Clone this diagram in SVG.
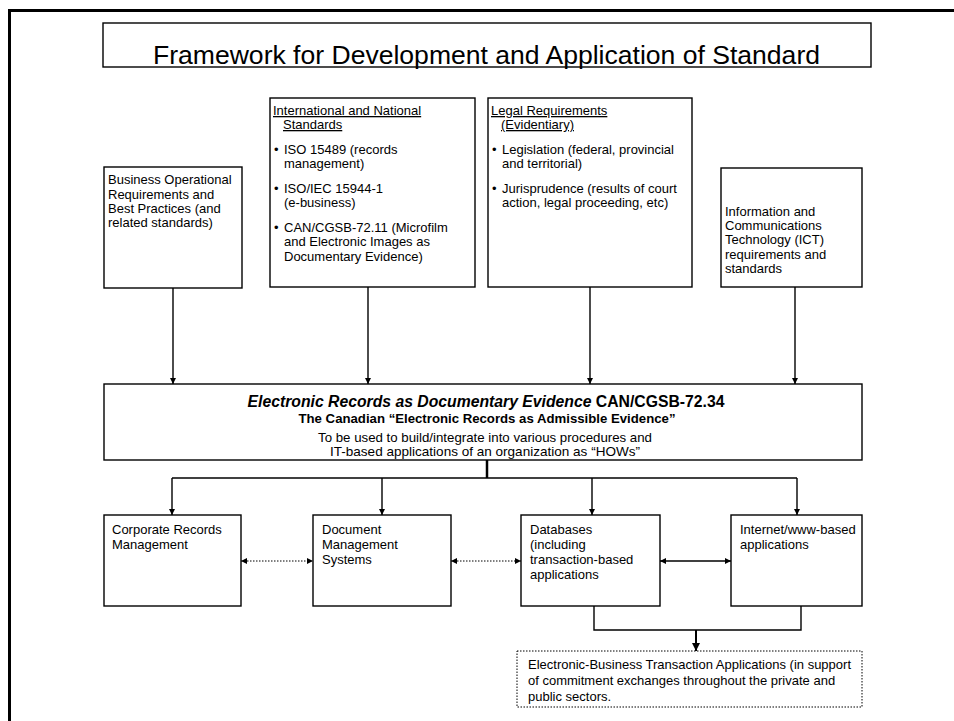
<svg xmlns="http://www.w3.org/2000/svg" width="954" height="721" viewBox="0 0 954 721">
  <defs>
    <marker id="arr" viewBox="0 0 10 10" refX="10" refY="5" markerWidth="6" markerHeight="7" markerUnits="userSpaceOnUse" orient="auto-start-reverse">
      <path d="M0,0 L10,5 L0,10 z" fill="#000"/>
    </marker>
    <marker id="arrL" viewBox="0 0 10 10" refX="10" refY="5" markerWidth="8" markerHeight="8" markerUnits="userSpaceOnUse" orient="auto-start-reverse">
      <path d="M0,0 L10,5 L0,10 z" fill="#000"/>
    </marker>
  </defs>
  <style>
    .box { fill: #fff; stroke: #000; stroke-width: 1.4; }
    .dot { fill: #fff; stroke: #000; stroke-width: 1; stroke-dasharray: 1.5 1.5; }
    .t { font-family: "Liberation Sans", Arial, sans-serif; font-size: 13px; fill: #000; }
    .u { text-decoration: underline; }
    .c { text-anchor: middle; }
    .ln { fill: none; stroke: #000; stroke-width: 1.4; }
    .dl { fill: none; stroke: #000; stroke-width: 1; stroke-dasharray: 1.5 1.5; }
  </style>

  <rect width="954" height="721" fill="#fff"/>
  <!-- outer frame -->
  <path d="M9.5,721 V10.5 H954" fill="none" stroke="#000" stroke-width="3"/>

  <g id="title">
    <rect class="box" x="103" y="23" width="768" height="44"/>
    <text class="t c" x="486.5" y="64" style="font-size:26px" textLength="667" lengthAdjust="spacingAndGlyphs">Framework for Development and Application of Standard</text>
  </g>

  <g id="business">
    <rect class="box" x="104" y="167" width="138" height="121"/>
    <text class="t" x="108" y="184">Business Operational</text>
    <text class="t" x="108" y="199">Requirements and</text>
    <text class="t" x="108" y="213">Best Practices (and</text>
    <text class="t" x="108" y="227">related standards)</text>
  </g>

  <g id="standards">
    <rect class="box" x="270" y="98" width="205" height="189"/>
    <text class="t u" x="273" y="115">International and National</text>
    <text class="t u" x="283" y="129">Standards</text>
    <text class="t" x="274" y="154">•</text>
    <text class="t" x="284" y="154">ISO 15489 (records</text>
    <text class="t" x="284" y="168">management)</text>
    <text class="t" x="274" y="193">•</text>
    <text class="t" x="284" y="193">ISO/IEC 15944-1</text>
    <text class="t" x="284" y="207">(e-business)</text>
    <text class="t" x="274" y="232">•</text>
    <text class="t" x="284" y="232">CAN/CGSB-72.11 (Microfilm</text>
    <text class="t" x="284" y="246">and Electronic Images as</text>
    <text class="t" x="284" y="261">Documentary Evidence)</text>
  </g>

  <g id="legal">
    <rect class="box" x="488" y="98" width="204" height="189"/>
    <text class="t u" x="491" y="115">Legal Requirements</text>
    <text class="t u" x="501" y="129">(Evidentiary)</text>
    <text class="t" x="492" y="154">•</text>
    <text class="t" x="502" y="154">Legislation (federal, provincial</text>
    <text class="t" x="502" y="168">and territorial)</text>
    <text class="t" x="492" y="193">•</text>
    <text class="t" x="502" y="193">Jurisprudence (results of court</text>
    <text class="t" x="502" y="207">action, legal proceeding, etc)</text>
  </g>

  <g id="ict">
    <rect class="box" x="721" y="168" width="141" height="119"/>
    <text class="t" x="725" y="216">Information and</text>
    <text class="t" x="725" y="230">Communications</text>
    <text class="t" x="725" y="244">Technology (ICT)</text>
    <text class="t" x="725" y="259">requirements and</text>
    <text class="t" x="725" y="273">standards</text>
  </g>

  <g id="standard-core">
    <rect class="box" x="104" y="384" width="758" height="76"/>
    <text class="t c" x="486" y="407" style="font-size:16px;font-weight:bold" textLength="477" lengthAdjust="spacingAndGlyphs"><tspan font-style="italic">Electronic Records as Documentary Evidence</tspan> CAN/CGSB-72.34</text>
    <text class="t c" x="487" y="423" style="font-size:12px;font-weight:bold" textLength="377" lengthAdjust="spacingAndGlyphs">The Canadian “Electronic Records as Admissible Evidence”</text>
    <text class="t c" x="485" y="442" style="font-size:13px" textLength="334" lengthAdjust="spacingAndGlyphs">To be used to build/integrate into various procedures and</text>
    <text class="t c" x="485" y="456" style="font-size:13px" textLength="310" lengthAdjust="spacingAndGlyphs">IT-based applications of an organization as “HOWs”</text>
  </g>

  <g id="corporate">
    <rect class="box" x="104" y="515" width="137" height="91"/>
    <text class="t" x="112" y="534">Corporate Records</text>
    <text class="t" x="112" y="549">Management</text>
  </g>

  <g id="docmgmt">
    <rect class="box" x="313" y="515" width="138" height="91"/>
    <text class="t" x="322" y="534">Document</text>
    <text class="t" x="322" y="549">Management</text>
    <text class="t" x="322" y="564">Systems</text>
  </g>

  <g id="databases">
    <rect class="box" x="521" y="515" width="139" height="91"/>
    <text class="t" x="530" y="534">Databases</text>
    <text class="t" x="530" y="549">(including</text>
    <text class="t" x="530" y="564">transaction-based</text>
    <text class="t" x="530" y="579">applications</text>
  </g>

  <g id="internet">
    <rect class="box" x="731" y="515" width="131" height="91"/>
    <text class="t" x="740" y="534">Internet/www-based</text>
    <text class="t" x="740" y="549">applications</text>
  </g>

  <g id="ebusiness">
    <rect class="dot" x="517" y="651" width="345" height="56"/>
    <text class="t" x="528" y="669">Electronic-Business Transaction Applications (in support</text>
    <text class="t" x="528" y="685">of commitment exchanges throughout the private and</text>
    <text class="t" x="528" y="701">public sectors.</text>
  </g>

  <g id="connectors">
    <!-- inputs into the standard -->
    <path class="ln" d="M173,288 V384" marker-end="url(#arr)"/>
    <path class="ln" d="M368,287 V384" marker-end="url(#arr)"/>
    <path class="ln" d="M590,287 V384" marker-end="url(#arr)"/>
    <path class="ln" d="M795,287 V384" marker-end="url(#arr)"/>
    <!-- distribution to applications -->
    <path d="M487,460 V478" fill="none" stroke="#000" stroke-width="2.5"/>
    <path class="ln" d="M172,478 H797"/>
    <path class="ln" d="M172,478 V515" marker-end="url(#arr)"/>
    <path class="ln" d="M382,478 V515" marker-end="url(#arr)"/>
    <path class="ln" d="M592,478 V515" marker-end="url(#arr)"/>
    <path class="ln" d="M797,478 V515" marker-end="url(#arr)"/>
    <!-- peer links -->
    <path class="dl" d="M241,561 H313" marker-start="url(#arr)" marker-end="url(#arr)"/>
    <path class="dl" d="M451,561 H521" marker-start="url(#arr)" marker-end="url(#arr)"/>
    <path class="ln" d="M660,561 H731" marker-start="url(#arr)" marker-end="url(#arr)"/>
    <!-- to e-business -->
    <path class="ln" d="M594,606 V630 H801 V606"/>
    <path d="M696,630 V651" fill="none" stroke="#000" stroke-width="2" marker-end="url(#arrL)"/>
  </g>
</svg>
